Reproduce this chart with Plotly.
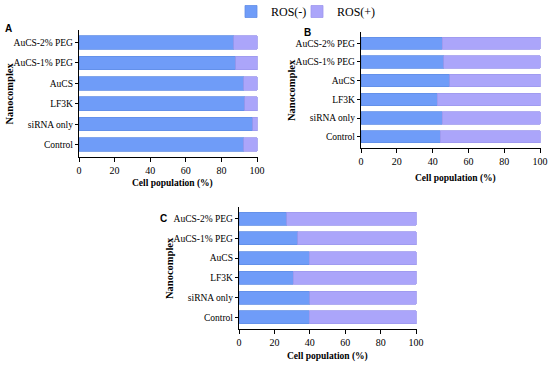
import plotly.graph_objects as go

categories = ["Control", "siRNA only", "LF3K", "AuCS", "AuCS-1% PEG", "AuCS-2% PEG"]
ros_neg_A = [92.5, 97.5, 93, 92.5, 88, 87]
ros_neg_B = [44.3, 45.3, 42.5, 49.5, 46.2, 45.3]
ros_neg_C = [39.8, 40, 30.5, 39.8, 33.3, 27]
xticks = [0, 20, 40, 60, 80, 100]

ros_pos_A = [100 - v for v in ros_neg_A]
ros_pos_B = [100 - v for v in ros_neg_B]
ros_pos_C = [100 - v for v in ros_neg_C]

W, H = 550, 365
BLUE = "#6f9cf8"
LAV = "#aba5fa"
BLUE_EDGE = "#628ee6"
LAV_EDGE = "#9e98ee"
SERIF = "Liberation Serif"

fig = go.Figure()

panels = [
    ("", ros_neg_A, ros_pos_A, (79, 258), (30, 157), "A", (8, 28), (172, 183)),
    ("2", ros_neg_B, ros_pos_B, (361, 541), (32, 148), "B", (307, 33), (455, 178)),
    ("3", ros_neg_C, ros_pos_C, (239, 417), (207, 329), "C", (163, 218), (327, 356)),
]

for i, (sfx, neg, pos, (x0, x1), (y0, y1), letter, (lx, ly), (tx, ty)) in enumerate(panels):
    xa = "x" + sfx
    ya = "y" + sfx
    fig.add_trace(go.Bar(y=categories, x=neg, orientation="h", name="ROS(-)",
                         marker=dict(color=BLUE, line=dict(color=BLUE_EDGE, width=0.8)),
                         xaxis=xa, yaxis=ya, showlegend=(i == 0), legend="legend"))
    fig.add_trace(go.Bar(y=categories, x=pos, orientation="h", name="ROS(+)",
                         marker=dict(color=LAV, line=dict(color=LAV_EDGE, width=0.8)),
                         xaxis=xa, yaxis=ya, showlegend=(i == 0), legend="legend2"))
    xkey = "xaxis" + sfx
    ykey = "yaxis" + sfx
    fig.update_layout(**{
        xkey: dict(domain=[x0 / W, x1 / W], anchor=ya, range=[0, 100.5],
                   tickvals=xticks, showgrid=False, zeroline=False, automargin=False,
                   showline=True, linecolor="black", linewidth=1.3,
                   ticks="outside", ticklen=4, tickcolor="black", tickwidth=1.2,
                   tickfont=dict(family=SERIF, size=10, color="black")),
        ykey: dict(domain=[1 - y1 / H, 1 - y0 / H], anchor=xa, range=[-0.6, 5.6],
                   type="category", showgrid=False, zeroline=False, automargin=False,
                   showline=True, linecolor="black", linewidth=1.3,
                   ticks="outside", ticklen=3, tickcolor="black", tickwidth=1.2,
                   tickfont=dict(family=SERIF, size=9.5, color="black")),
    })
    # panel letter
    fig.add_annotation(x=lx / W, y=1 - ly / H, xref="paper", yref="paper",
                       xanchor="center", yanchor="middle",
                       text="<b>" + letter + "</b>", showarrow=False,
                       font=dict(family="Liberation Sans", size=10, color="black"))
    # x title
    fig.add_annotation(x=tx / W, y=1 - ty / H, xref="paper", yref="paper",
                       xanchor="center", yanchor="middle",
                       text="<b>Cell population (%)</b>", showarrow=False,
                       font=dict(family=SERIF, size=9.5, color="black"))
    # y title
    fig.add_annotation(x=(x0 - 70) / W, y=1 - (y0 + y1) / 2 / H, xref="paper", yref="paper",
                       xanchor="center", yanchor="middle",
                       text="<b>Nanocomplex</b>", showarrow=False, textangle=-90,
                       font=dict(family=SERIF, size=10.5, color="black"))

legend_common = dict(orientation="h", y=1 + 3 / H, xanchor="left", yanchor="top",
                     font=dict(family=SERIF, size=12, color="black"),
                     itemwidth=30, bgcolor="rgba(0,0,0,0)")

fig.update_layout(
    width=W, height=H,
    margin=dict(l=0, r=0, t=0, b=0, pad=0, autoexpand=False),
    barmode="stack", bargap=0.34,
    plot_bgcolor="white", paper_bgcolor="white",
    legend=dict(x=231 / W, **legend_common),
    legend2=dict(x=297 / W, **legend_common),
)

fig.write_html("out.html", config={"displayModeBar": False},
               post_script="document.body.style.margin='0';document.body.style.padding='0';")
